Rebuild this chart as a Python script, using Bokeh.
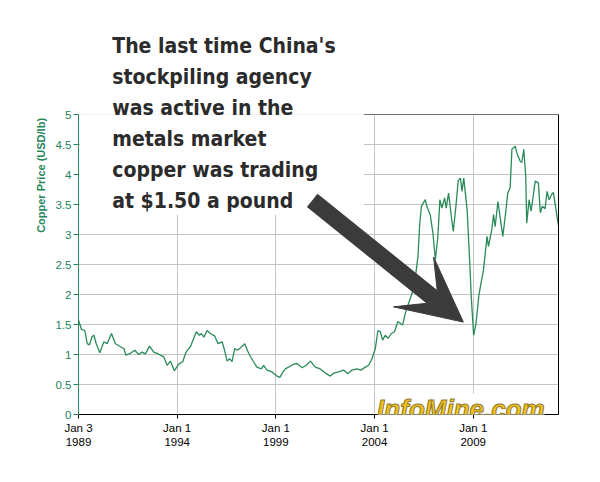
import math
from bokeh.plotting import figure
from bokeh.models import (FixedTicker, Range1d, Label, BoxAnnotation, Arrow,
                          VeeHead, ColumnDataSource, NumeralTickFormatter, LinearAxis)
from bokeh.embed import file_html
from bokeh.resources import INLINE

# ---------------- data ----------------
years = [1989.00, 1989.15, 1989.32, 1989.44, 1989.56, 1989.69, 1989.78, 1989.90,
         1990.08, 1990.28, 1990.45, 1990.67, 1990.87, 1991.13, 1991.30, 1991.40,
         1991.63, 1991.85, 1992.05, 1992.22, 1992.39, 1992.60, 1992.81, 1992.98,
         1993.15, 1993.32, 1993.49, 1993.66, 1993.86, 1994.08, 1994.28, 1994.45,
         1994.67, 1994.84, 1994.97, 1995.13, 1995.23, 1995.35, 1995.52, 1995.68,
         1995.90, 1996.07, 1996.28, 1996.40, 1996.53, 1996.65, 1996.78, 1996.91,
         1997.04, 1997.20, 1997.42, 1997.62, 1997.83, 1998.04, 1998.27, 1998.38,
         1998.55, 1998.80, 1999.06, 1999.20, 1999.36, 1999.48, 1999.70, 1999.90,
         2000.07, 2000.33, 2000.54, 2000.75, 2001.00, 2001.25, 2001.51, 2001.76,
         2001.93, 2002.18, 2002.43, 2002.64, 2002.85, 2003.11, 2003.31, 2003.53,
         2003.70, 2003.87, 2004.04, 2004.17, 2004.29, 2004.41, 2004.54, 2004.68,
         2004.85, 2005.01, 2005.18, 2005.30, 2005.42, 2005.56, 2005.72, 2005.90,
         2006.06, 2006.20, 2006.28, 2006.37, 2006.48, 2006.57, 2006.65, 2006.82,
         2006.96, 2007.08, 2007.21, 2007.31, 2007.41, 2007.55, 2007.63, 2007.75,
         2007.89, 2007.99, 2008.13, 2008.24, 2008.35, 2008.43, 2008.52, 2008.69,
         2008.81, 2008.90, 2009.02, 2009.14, 2009.30, 2009.52, 2009.70, 2009.77,
         2009.94, 2010.03, 2010.11, 2010.25, 2010.37, 2010.50, 2010.62, 2010.75,
         2010.87, 2010.96, 2011.13, 2011.21, 2011.38, 2011.46, 2011.56, 2011.66,
         2011.71, 2011.83, 2011.93, 2012.05, 2012.14, 2012.30, 2012.40, 2012.50,
         2012.64, 2012.74, 2012.84, 2012.98, 2013.06, 2013.18, 2013.31]

price = [1.57, 1.42, 1.40, 1.18, 1.16, 1.30, 1.32, 1.18,
         1.03, 1.21, 1.18, 1.35, 1.18, 1.13, 1.10, 0.99,
         1.02, 1.07, 1.00, 1.04, 1.01, 1.14, 1.04, 1.02,
         0.99, 0.96, 0.82, 0.89, 0.73, 0.84, 0.88, 1.04,
         1.13, 1.27, 1.38, 1.32, 1.35, 1.29, 1.40, 1.35,
         1.31, 1.18, 1.21, 1.07, 0.89, 0.93, 0.88, 1.10,
         1.07, 1.11, 1.18, 1.02, 0.90, 0.79, 0.76, 0.82,
         0.74, 0.71, 0.64, 0.62, 0.71, 0.76, 0.80, 0.84,
         0.85, 0.78, 0.82, 0.89, 0.79, 0.76, 0.69, 0.64,
         0.69, 0.71, 0.74, 0.68, 0.74, 0.76, 0.74, 0.79,
         0.82, 0.93, 1.10, 1.40, 1.38, 1.24, 1.32, 1.27,
         1.35, 1.38, 1.55, 1.52, 1.49, 1.69, 1.85, 2.02,
         2.27, 2.63, 3.13, 3.47, 3.53, 3.58, 3.47, 3.33,
         3.02, 2.58, 2.97, 3.58, 3.44, 3.61, 3.44, 3.69,
         3.30, 3.05, 3.50, 3.90, 3.94, 3.72, 3.94, 3.41,
         2.63, 1.96, 1.32, 1.52, 2.02, 2.41, 2.97, 2.80,
         3.08, 3.33, 3.13, 3.55, 3.27, 2.97, 3.30, 3.69,
         3.78, 4.42, 4.47, 4.36, 4.22, 4.20, 4.42, 3.97,
         3.19, 3.58, 3.39, 3.67, 3.89, 3.86, 3.36, 3.47,
         3.43, 3.72, 3.58, 3.67, 3.70, 3.44, 3.16]

x_tick_values = [1989, 1994, 1999, 2004, 2009]
x_tick_labels = ["Jan 3\n1989", "Jan 1\n1994", "Jan 1\n1999", "Jan 1\n2004", "Jan 1\n2009"]
y_tick_values = [0, 0.5, 1, 1.5, 2, 2.5, 3, 3.5, 4, 4.5, 5]

y_axis_title = "Copper Price (USD/lb)"
note_lines = ["The last time China's",
              "stockpiling agency",
              "was active in the",
              "metals market",
              "copper was trading",
              "at $1.50 a pound"]
watermark = "InfoMine.com"

GREEN = "#23855a"
LINE_GREEN = "#2a8a58"
Y_MAX = 5.0
Y_TOP = 6.9  # room above the chart for the note (frame reaches canvas top)

# ---------------- figure ----------------
p = figure(frame_width=480, frame_height=414,
           x_range=Range1d(1989.0, 2013.32), y_range=Range1d(0, Y_TOP),
           output_backend="svg", toolbar_location=None,
           min_border_left=78, min_border_right=42,
           min_border_top=0, min_border_bottom=60,
           background_fill_color="white", border_fill_color="white",
           outline_line_color=None)

src = ColumnDataSource(dict(x=years, y=price))
p.line("x", "y", source=src, line_color=LINE_GREEN, line_width=1.3)

# axes
xa = p.xaxis[0]
xa.ticker = FixedTicker(ticks=x_tick_values)
xa.major_label_overrides = {v: l for v, l in zip(x_tick_values, x_tick_labels)}
xa.axis_line_color = "black"
xa.major_tick_line_color = "black"
xa.major_tick_out = 4
xa.major_tick_in = 0
xa.minor_tick_line_color = None
xa.major_label_text_font = "Liberation Sans"
xa.major_label_text_font_size = "11.5px"
xa.major_label_text_color = "black"
xa.major_label_standoff = 3

ya = p.yaxis[0]
ya.ticker = FixedTicker(ticks=y_tick_values)
ya.formatter = NumeralTickFormatter(format="0.[0]")
ya.bounds = (0, Y_MAX)
ya.axis_line_color = GREEN
ya.major_tick_line_color = GREEN
ya.major_tick_out = 5
ya.major_tick_in = 0
ya.minor_tick_line_color = None
ya.major_label_text_font = "Liberation Sans"
ya.major_label_text_font_size = "11.5px"
ya.major_label_text_color = GREEN
ya.major_label_standoff = 2
ya.axis_label_text_font = "Liberation Sans"
ya.axis_label_text_font_size = "11px"
ya.axis_label_text_font_style = "bold"
ya.axis_label_text_color = GREEN
ya.axis_label_standoff = 6
# the frame reaches the canvas top, so pad the centred title to sit near y = 4
ya.axis_label = "\u00a0" * 21 + y_axis_title

# right border of the chart box
ra = LinearAxis(ticker=FixedTicker(ticks=[]), bounds=(0, Y_MAX),
                axis_line_color="black", major_tick_line_color=None,
                minor_tick_line_color=None, major_label_text_font_size="0px")
p.add_layout(ra, "right")

p.xgrid.grid_line_color = "#c4c4c4"
p.ygrid.grid_line_color = "#c4c4c4"

# blank space above the chart box
p.add_layout(BoxAnnotation(bottom=Y_MAX, fill_color="white", fill_alpha=1.0,
                           line_color=None, level="underlay"))
# white box behind the note (as in the source image)
p.add_layout(BoxAnnotation(left=1989.08, right=2003.47, bottom=3.33, top=Y_MAX,
                           fill_color="white", fill_alpha=1.0, line_color=None,
                           level="underlay"))
# top border of the chart box (visible right of the note)
p.add_layout(BoxAnnotation(left=2003.47, bottom=Y_MAX, top=Y_MAX,
                           fill_alpha=0.0, line_color="black", line_width=1))

# note text
for i, line in enumerate(note_lines):
    p.add_layout(Label(x=1990.71, y=6.15 - i * 0.517, text=line,
                       text_align="left", text_baseline="alphabetic",
                       text_font="DejaVu Sans Condensed",
                       text_font_size="21px", text_font_style="bold",
                       text_color="#2b2b2b"))

# arrow
p.add_layout(Arrow(x_start=2000.84, y_start=3.57, x_end=2008.50, y_end=1.54,
                   line_color="#3b3b3b", line_width=17,
                   end=VeeHead(size=64, fill_color="#3b3b3b", line_color="#3b3b3b")))

# watermark
p.add_layout(Label(x=2004.13, y=0.1, text=watermark,
                   text_align="left", text_baseline="alphabetic",
                   text_font="Liberation Sans", text_font_size="26px",
                   text_font_style="bold italic", text_color="#f3c21c",
                   text_outline_color="#8f7a33",
                   background_fill_color="white", background_fill_alpha=1.0))

open("out.html", "w").write(file_html(p, INLINE))
